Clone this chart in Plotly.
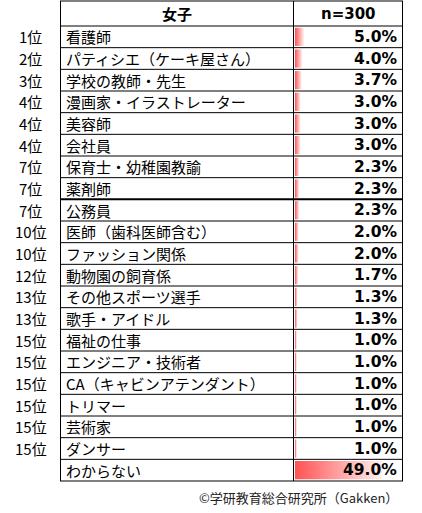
import plotly.graph_objects as go

# ranking of jobs girls want (n=300)
ranks = ["1位", "2位", "3位", "4位", "4位", "4位", "7位", "7位", "7位", "10位",
         "10位", "12位", "13位", "13位", "15位", "15位", "15位", "15位", "15位", "15位", ""]
jobs = ["看護師", "パティシエ（ケーキ屋さん）", "学校の教師・先生", "漫画家・イラストレーター",
        "美容師", "会社員", "保育士・幼稚園教諭", "薬剤師", "公務員", "医師（歯科医師含む）",
        "ファッション関係", "動物園の飼育係", "その他スポーツ選手", "歌手・アイドル", "福祉の仕事",
        "エンジニア・技術者", "CA（キャビンアテンダント）", "トリマー", "芸術家", "ダンサー", "わからない"]
values = [5.0, 4.0, 3.7, 3.0, 3.0, 3.0, 2.3, 2.3, 2.3, 2.0,
          2.0, 1.7, 1.3, 1.3, 1.0, 1.0, 1.0, 1.0, 1.0, 1.0, 49.0]
header_left = "女子"
header_right = "n=300"
source = "©学研教育総合研究所（Gakken）"

W, H = 422, 513
JP = "Noto Sans CJK JP"
NUM = "DejaVu Sans"

# page layout in pixels
ROW_TOP, ROW_H = 26, 455 / 21
def ypos(px):
    return (px - ROW_TOP) / ROW_H - 0.5

def xp(px):
    return px / W

n = len(jobs)
fig = go.Figure()

# data bars with horizontal gradient (Excel style)
half = 0.42
for i, v in enumerate(values):
    fig.add_trace(go.Scatter(
        x=[0, v, v, 0, 0],
        y=[i - half, i - half, i + half, i + half, i - half],
        mode="lines", line=dict(width=0),
        fill="toself",
        fillgradient=dict(type="horizontal",
                          colorscale=[[0, "#FF5252"], [1, "#FFF0F0"]]),
        xaxis="x2", yaxis="y",
        hoverinfo="skip", showlegend=False,
    ))

shapes = []
line = dict(color="black", width=1)
top = ypos(1)
bottom = n - 0.5
for px in (60.5, 293.5, 402.5):
    shapes.append(dict(type="line", xref="paper", yref="y", x0=xp(px), x1=xp(px),
                       y0=top, y1=bottom, line=line))
shapes.append(dict(type="line", xref="paper", yref="y", x0=xp(60), x1=xp(403),
                   y0=top, y1=top, line=line))
for k in range(n + 1):
    w = 2 if k == 8 else 1
    shapes.append(dict(type="line", xref="paper", yref="y", x0=xp(60), x1=xp(403),
                       y0=k - 0.5, y1=k - 0.5, line=dict(color="black", width=w)))

ann = []
hy = (top + (-0.5)) / 2
ann.append(dict(x=xp(176.5), y=hy, text="<b>" + header_left + "</b>",
                font=dict(family=JP, size=15, color="black")))
ann.append(dict(x=xp(348), y=hy, text="<b>" + header_right + "</b>",
                font=dict(family=NUM, size=15, color="black")))
for i in range(n):
    if ranks[i]:
        ann.append(dict(x=xp(31), y=i, text=ranks[i],
                        font=dict(family=JP, size=15, color="black")))
    ann.append(dict(x=xp(64), y=i, text=jobs[i], xanchor="left",
                    font=dict(family=JP, size=15, color="black")))
    ann.append(dict(x=xp(399), y=i, text="<b>%.1f%%</b>" % values[i], xanchor="right",
                    font=dict(family=NUM, size=15.5, color="black")))
ann.append(dict(x=xp(400), y=ypos(497), text=source, xanchor="right",
                font=dict(family=JP, size=13, color="#222222")))
for a in ann:
    a.setdefault("xanchor", "center")
    a.update(xref="paper", yref="y", yanchor="middle", showarrow=False)

fig.update_layout(
    width=W, height=H,
    margin=dict(l=0, r=0, t=0, b=0),
    paper_bgcolor="white", plot_bgcolor="white",
    xaxis2=dict(domain=[xp(295), xp(403)], range=[0, 60.8], anchor="y",
                visible=False, fixedrange=True),
    yaxis=dict(domain=[0, 1], range=[ypos(H), ypos(0)], visible=False, fixedrange=True),
    shapes=shapes,
    annotations=ann,
    showlegend=False,
)

# drop the browser's default body margin so the figure sits at the page corner
fig.write_html("out.html", config={"displayModeBar": False},
               post_script="document.body.style.margin='0';document.body.style.overflow='hidden';")
